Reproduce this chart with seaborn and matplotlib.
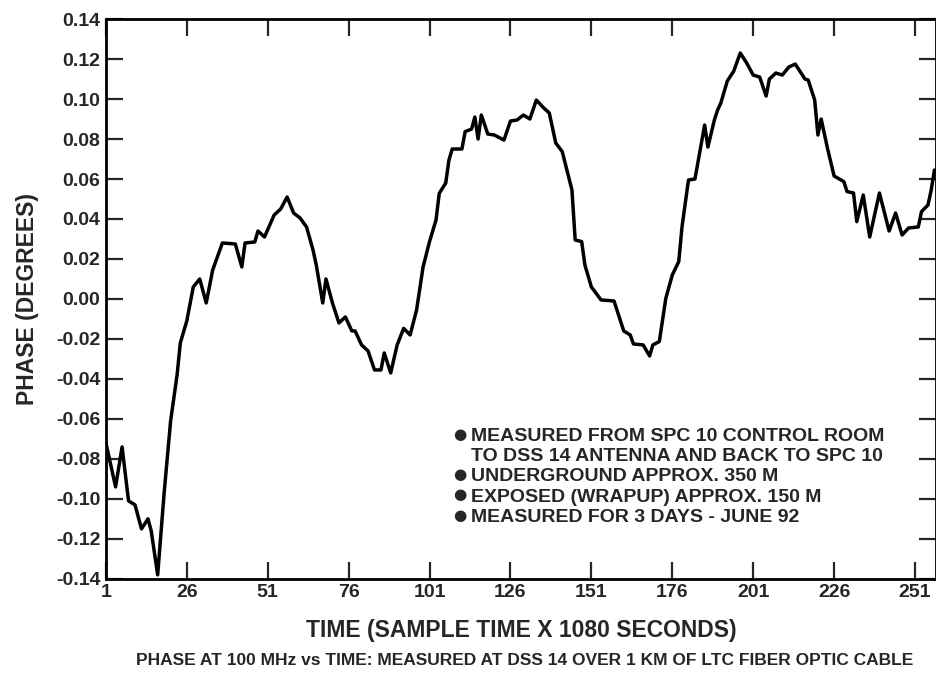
import pandas as pd
import matplotlib
matplotlib.use("Agg")
import matplotlib.pyplot as plt
import seaborn as sns

sample = [1, 4, 6, 8, 10, 12, 14, 15, 17, 19, 20, 21, 23, 24, 26, 28, 30, 32, 34, 37,
          41, 43, 44, 47, 48, 50, 53, 55, 57, 59, 61, 63, 65, 66, 68, 69, 71, 73, 75, 77,
          78, 80, 82, 84, 86, 87, 89, 91, 93, 95, 97, 99, 101, 103, 104, 106, 107, 108, 111, 112,
          114, 115, 116, 117, 119, 121, 124, 126, 128, 130, 132, 134, 136, 138, 140, 142, 145, 146, 148, 149,
          151, 154, 158, 161, 163, 164, 167, 169, 170, 172, 174, 176, 178, 179, 181, 183, 186, 187, 189, 190,
          191, 193, 195, 197, 199, 201, 203, 205, 206, 208, 210, 212, 214, 217, 218, 220, 221, 222, 224, 226,
          229, 230, 232, 233, 235, 237, 240, 243, 245, 247, 249, 252, 253, 255, 256, 257]
phase = [-0.072, -0.094, -0.074, -0.101, -0.103, -0.115, -0.110, -0.116, -0.138, -0.097,
         -0.079, -0.061, -0.038, -0.022, -0.011, 0.006, 0.010, -0.002, 0.0145, 0.028,
         0.0275, 0.016, 0.028, 0.0285, 0.034, 0.031, 0.042, 0.045, 0.051, 0.043,
         0.0405, 0.036, 0.0245, 0.017, -0.002, 0.010, -0.002, -0.012, -0.009, -0.016,
         -0.016, -0.023, -0.026, -0.0355, -0.0355, -0.027, -0.037, -0.023, -0.0147, -0.018,
         -0.0055, 0.016, 0.0287, 0.0395, 0.0528, 0.058, 0.0695, 0.075, 0.075, 0.0837,
         0.085, 0.091, 0.080, 0.092, 0.0825, 0.082, 0.0795, 0.089, 0.0895, 0.092,
         0.090, 0.0995, 0.096, 0.093, 0.078, 0.0737, 0.0545, 0.0295, 0.0287, 0.017,
         0.006, -0.0005, -0.001, -0.016, -0.018, -0.0225, -0.023, -0.0285, -0.023, -0.0213,
         0.0003, 0.012, 0.0187, 0.036, 0.0595, 0.060, 0.087, 0.076, 0.0895, 0.0945,
         0.098, 0.109, 0.114, 0.123, 0.118, 0.112, 0.111, 0.1015, 0.110, 0.113,
         0.112, 0.116, 0.1175, 0.110, 0.1095, 0.0995, 0.082, 0.090, 0.075, 0.0615,
         0.0587, 0.0537, 0.053, 0.0387, 0.052, 0.031, 0.053, 0.034, 0.043, 0.032,
         0.0355, 0.036, 0.0437, 0.047, 0.0545, 0.0645]

x_ticks = [1, 26, 51, 76, 101, 126, 151, 176, 201, 226, 251]
y_ticks = [-0.14, -0.12, -0.10, -0.08, -0.06, -0.04, -0.02, 0.00,
           0.02, 0.04, 0.06, 0.08, 0.10, 0.12, 0.14]

notes = [
    ("MEASURED FROM SPC 10 CONTROL ROOM", True),
    ("TO DSS 14 ANTENNA AND BACK TO SPC 10", False),
    ("UNDERGROUND APPROX. 350 M", True),
    ("EXPOSED (WRAPUP) APPROX. 150 M", True),
    ("MEASURED FOR 3 DAYS - JUNE 92", True),
]

sns.set_style("ticks")
plt.rcParams["font.family"] = ["Liberation Sans", "DejaVu Sans"]
plt.rcParams["font.weight"] = "bold"

df = pd.DataFrame({"sample": sample, "phase": phase})

fig = plt.figure(figsize=(9.37, 6.81), dpi=100)
ax = fig.add_axes([0.113, 0.150, 0.886, 0.822])

sns.lineplot(data=df, x="sample", y="phase", ax=ax, color="black",
             linewidth=2.5, estimator=None, sort=False)

ax.set_xlim(1, 257.5)
ax.set_ylim(-0.14, 0.14)
ax.set_xticks(x_ticks)
ax.set_yticks(y_ticks)
ax.set_yticklabels([f"{v:.2f}" for v in y_ticks])
ax.tick_params(direction="in", length=12, width=1.6, top=True, right=True,
               labelsize=14, pad=4)
for lbl in ax.get_xticklabels() + ax.get_yticklabels():
    lbl.set_fontweight("bold")
for sp in ax.spines.values():
    sp.set_linewidth(2)
    sp.set_color("black")

ax.set_xlabel("TIME (SAMPLE TIME X 1080 SECONDS)", fontsize=16.5,
              fontweight="bold", labelpad=13)
ax.set_ylabel("PHASE (DEGREES)", fontsize=16.5, fontweight="bold", labelpad=12)

y0 = 0.254
step = 0.036
for i, (txt, bullet) in enumerate(notes):
    yy = y0 - i * step
    if bullet:
        ax.text(0.418, yy + 0.004, "\u25cf", transform=ax.transAxes, fontsize=11,
                va="center", ha="left", family=["DejaVu Sans"])
    ax.text(0.440, yy, txt, transform=ax.transAxes, fontsize=14,
            fontweight="bold", va="center", ha="left")

fig.text(0.560, 0.030,
         "PHASE AT 100 MHz vs TIME: MEASURED AT DSS 14 OVER 1 KM OF LTC FIBER OPTIC CABLE",
         fontsize=12.5, fontweight="bold", ha="center", va="center")

fig.savefig("out.png", dpi=100, facecolor="white")
